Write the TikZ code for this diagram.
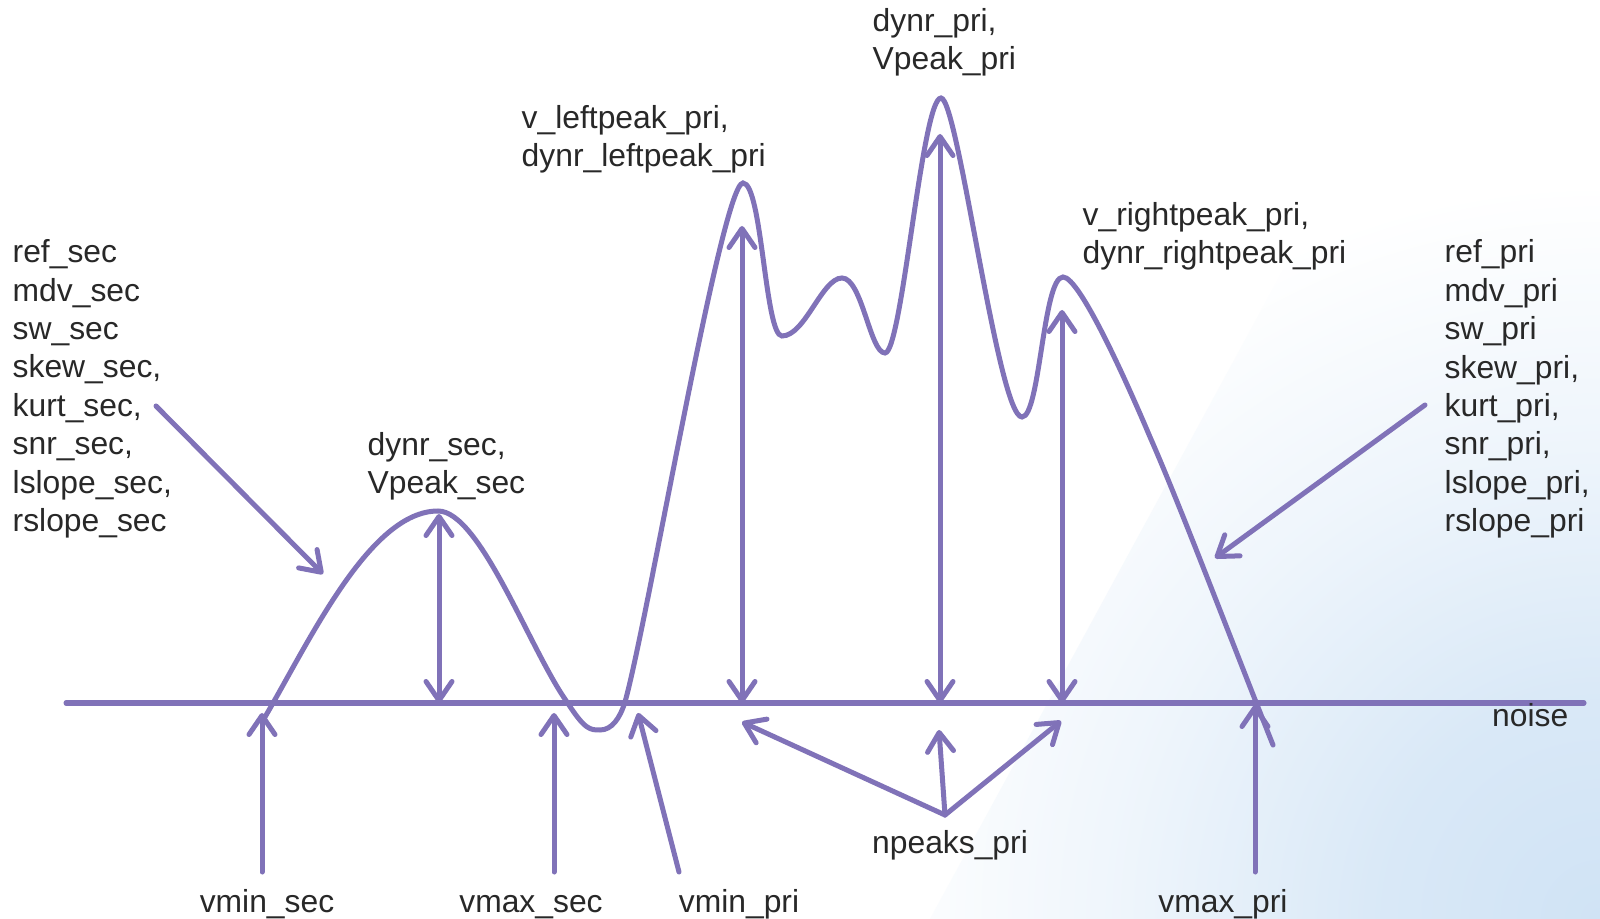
\documentclass[tikz,border=0pt]{standalone}
\usepackage{fontspec}
\setmainfont{Liberation Sans}
\usepackage{xcolor}
\usepackage{tikz}
\usetikzlibrary{arrows.meta, calc, positioning}

\definecolor{sigcol}{RGB}{128,114,184}
\definecolor{txtcol}{RGB}{40,40,40}
\definecolor{bgblue}{RGB}{208,227,245}

\pgfdeclareradialshading{swoosh}{\pgfpoint{0bp}{0bp}}{color(0bp)=(bgblue); color(7bp)=(bgblue!80); color(15bp)=(bgblue!35); color(23bp)=(white); color(50bp)=(white)}

\begin{document}
\begin{tikzpicture}[x=0.01cm, y=-0.01cm,
        sig/.style={draw=sigcol, line width=0.05cm, line cap=round},
        ptr/.style={sig, ->},
        lbl/.style={font=\fontsize{9.05}{10.93}\selectfont, text=txtcol, inner sep=0pt, align=left},
        >={Straight Barb[round, length=1.9mm, width=2.6mm]}]
            \newcommand{\NoiseY}{703}

            \useasboundingbox (0,0) rectangle (1600,919);
            \fill[white] (0,0) rectangle (1600,919);
            \begin{scope}
                \clip (1430,0) -- (1600,0) -- (1600,919) -- (930,919) -- cycle;
                \shade[shading=swoosh] (1600,919) circle (8cm);% background swoosh
            \end{scope}

            % extrema of the signal
            \coordinate (S0) at (265,717);
            \coordinate (P1) at (438,511);
            \coordinate (M1) at (600,730);
            \coordinate (P2) at (743,183);
            \coordinate (V1) at (782,336);
            \coordinate (P3) at (842,278);
            \coordinate (V2) at (885,353);
            \coordinate (P4) at (941,98);
            \coordinate (V3) at (1022,417);
            \coordinate (P5) at (1063,277);
            \coordinate (E) at (1273,745);

            \coordinate (noiseL) at (66,\NoiseY);
            \coordinate (noiseR) at (1584,\NoiseY);

            \draw[sig] (noiseL) -- (noiseR);% noise level

            \draw[sig] (S0) .. controls (310,640) and (370,511) .. (P1)
                .. controls (480,511) and (530,650) .. (567,702)
                .. controls (585,730) and (590,730) .. (M1)
                .. controls (612,730) and (620,718) .. (625,702)
                .. controls (648,620) and (722,183) .. (P2)
                .. controls (762,183) and (765,336) .. (V1)
                .. controls (805,336) and (822,278) .. (P3)
                .. controls (862,278) and (870,353) .. (V2)
                .. controls (902,353) and (922,98) .. (P4)
                .. controls (958,98) and (998,417) .. (V3)
                .. controls (1040,417) and (1043,277) .. (P5)
                .. controls (1080,277) and (1128,385) .. (1150,437)
                .. controls (1180,505) and (1235,650) .. (E);

            % peak heights
            \coordinate (h1) at (439,514);
            \coordinate (h2) at (742,226);
            \coordinate (h3) at (940,134);
            \coordinate (h4) at (1062,310);
            \draw[sig, <->] (h1) -- (h1 |- noiseL);
            \draw[sig, <->] (h2) -- (h2 |- noiseL);
            \draw[sig, <->] (h3) -- (h3 |- noiseL);
            \draw[sig, <->] (h4) -- (h4 |- noiseL);

            % labels
            \node[lbl, anchor=west] (secstats) at (12,389) {ref\_sec\\mdv\_sec\\sw\_sec\\skew\_sec,\\kurt\_sec,\\snr\_sec,\\lslope\_sec,\\rslope\_sec};
            \node[lbl, anchor=west] (pristats) at (1444,389) {ref\_pri\\mdv\_pri\\sw\_pri\\skew\_pri,\\kurt\_pri,\\snr\_pri,\\lslope\_pri,\\rslope\_pri};
            \node[lbl, anchor=west] (dynrsec) at (367,466) {dynr\_sec,\\Vpeak\_sec};
            \node[lbl, anchor=west] (leftpeak) at (521,139) {v\_leftpeak\_pri,\\dynr\_leftpeak\_pri};
            \node[lbl, anchor=west] (dynrpri) at (872,42) {dynr\_pri,\\Vpeak\_pri};
            \node[lbl, anchor=west] (rightpeak) at (1082,236) {v\_rightpeak\_pri,\\dynr\_rightpeak\_pri};
            \node[lbl, anchor=base east] (noise) at (1569,727) {noise};
            \node[lbl, anchor=base] (npeaks) at (950,853) {npeaks\_pri};
            \node[lbl, anchor=base] (vminsec) at (267,912) {vmin\_sec};
            \node[lbl, anchor=base] (vmaxsec) at (531,912) {vmax\_sec};
            \node[lbl, anchor=base] (vminpri) at (739,912) {vmin\_pri};
            \node[lbl, anchor=base] (vmaxpri) at (1223,912) {vmax\_pri};

            % pointers
            \coordinate (secA) at (156,406);
            \coordinate (secB) at (323,574);
            \coordinate (priA) at (1425,405);
            \coordinate (priB) at (1215,558);
            \draw[ptr] (secA) -- (secB);
            \draw[ptr] (priA) -- (priB);

            \coordinate (vminsecA) at (262,872);
            \coordinate (vminsecB) at (262,713);
            \coordinate (vmaxsecA) at (554,872);
            \coordinate (vmaxsecB) at (554,713);
            \coordinate (vminpriA) at (679,872);
            \coordinate (vminpriB) at (638,713);
            \coordinate (vmaxpriA) at (1255,872);
            \coordinate (vmaxpriB) at (1255,705);
            \draw[ptr] (vminsecA) -- (vminsecB);
            \draw[ptr] (vmaxsecA) -- (vmaxsecB);
            \draw[ptr] (vminpriA) -- (vminpriB);
            \draw[ptr] (vmaxpriA) -- (vmaxpriB);

            \coordinate (npeaksA) at (945,815);
            \draw[ptr] (npeaksA) -- (742,722);
            \draw[ptr] (npeaksA) -- (939,730);
            \draw[ptr] (npeaksA) -- (1061,721);
        \end{tikzpicture}
\end{document}
